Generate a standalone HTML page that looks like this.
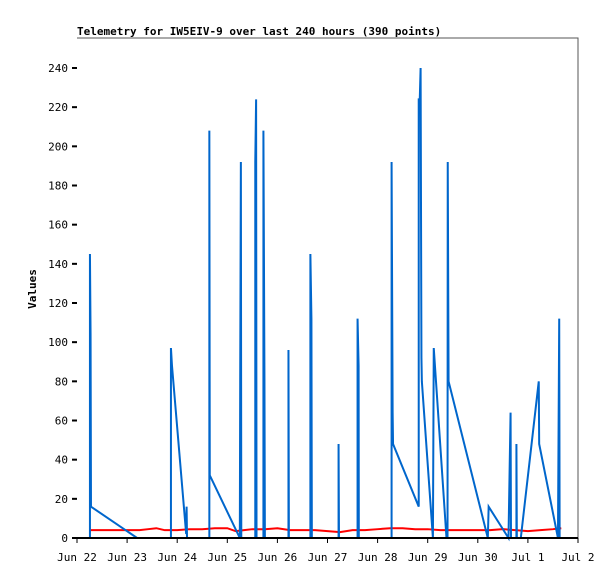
<!DOCTYPE html>
<html><head><meta charset="utf-8"><style>
body{margin:0;background:#fff}
text{font-family:"DejaVu Sans Mono","Liberation Mono",monospace;font-size:11px;fill:#000}
</style></head><body>
<svg id="chart" width="615" height="579" xmlns="http://www.w3.org/2000/svg">
<rect width="615" height="579" fill="#fff"/>
<text x="77" y="35" font-weight="bold">Telemetry for IW5EIV-9 over last 240 hours (390 points)</text>
<text transform="translate(36,289) rotate(-90)" text-anchor="middle" font-weight="bold">Values</text>
<g id="grid"></g>
<g id="series"></g>
<g id="axes"></g>
</svg>
<script>
const xTicks=["Jun 22","Jun 23","Jun 24","Jun 25","Jun 26","Jun 27","Jun 28","Jun 29","Jun 30","Jul 1","Jul 2"];
const yTicks=[0,20,40,60,80,100,120,140,160,180,200,220,240];
const blueHours=[6.2,6.2,6.5,6.7,28.8,45,45,45.5,52.3,52.5,52.7,63.4,63.4,63.6,78,78.2,78.5,78.7,85.4,85.4,85.8,86,89.3,89.3,89.8,90,101.3,101.3,101.5,111.8,111.8,112.3,112.5,125.3,125.3,125.5,134.4,134.4,134.9,135,150.7,150.7,151.2,151.4,163.7,163.7,164.2,164.6,165,165.2,170.5,170.9,177,177.5,177.6,178,196.8,197.2,206.7,207.7,207.9,210.5,210.5,210.7,212.6,221.2,221.4,230.4,231,231.2];
const blueValues=[0,145,104,16,0,0,97,88,2,16,0,0,208,32,0,88,192,0,0,192,224,0,0,208,80,0,0,96,0,0,145,112,0,0,48,0,0,112,88,0,0,192,64,48,16,224,224,240,92,80,0,97,0,0,192,80,0,16,0,64,0,0,48,0,0,80,48,0,112,0];
const redHours=[6,12,18,24,30,34,38,42,48,54,60,66,72,76,80,84,90,96,102,108,114,120,126,132,138,144,150,156,162,168,174,180,186,192,198,204,210,216,222,228,232];
const redValues=[4,4,4,4,4,4.5,5,4,4,4.5,4.5,5,5,3.5,4,4.5,4.5,5,4,4,4,3.5,3,4,4,4.5,5,5,4.5,4.5,4,4,4,4,4,4.5,4,3.5,4,4.5,5];
const X0=77,X1=578,Y0=538,YT=38,HMAX=240;
const sx=h=>X0+h*(X1-X0)/HMAX;
const sy=v=>Y0-v*(Y0-68)/240;
const NS="http://www.w3.org/2000/svg";
function mk(tag,attrs,parent){const e=document.createElementNS(NS,tag);for(const k in attrs)e.setAttribute(k,attrs[k]);parent.appendChild(e);return e;}
const axes=document.getElementById('axes'),series=document.getElementById('series');
// frame
const fr=mk('path',{d:`M${X0} ${YT}H${X1}V${Y0}`,fill:'none',stroke:'#555','stroke-width':1},axes);


const xa=mk('line',{x1:X0-5,x2:X1,y1:Y0,y2:Y0,stroke:'#000','stroke-width':2},axes);


yTicks.forEach(v=>{
  const t=mk('line',{x1:X0-5,x2:X0,y1:sy(v),y2:sy(v),stroke:'#000','stroke-width':2},axes);
  
  
  const l=mk('text',{x:X0-9,y:sy(v)+4,'text-anchor':'end'},axes);l.textContent=v;
  
  
});
xTicks.forEach((s,i)=>{
  const x=sx(i*24);
  const t=mk('line',{x1:x,x2:x,y1:Y0,y2:Y0+5,stroke:'#000','stroke-width':1},axes);
  
  
  const l=mk('text',{x:x,y:Y0+23,'text-anchor':'middle'},axes);l.textContent=s;
  
  
});
const red=mk('polyline',{points:redHours.map((h,i)=>sx(h)+','+sy(redValues[i])).join(' '),fill:'none',stroke:'#f00','stroke-width':2},series);


const blue=mk('polyline',{points:blueHours.map((h,i)=>sx(h)+','+sy(blueValues[i])).join(' '),fill:'none',stroke:'#0066cc','stroke-width':2},series);


</script>
</body></html>
